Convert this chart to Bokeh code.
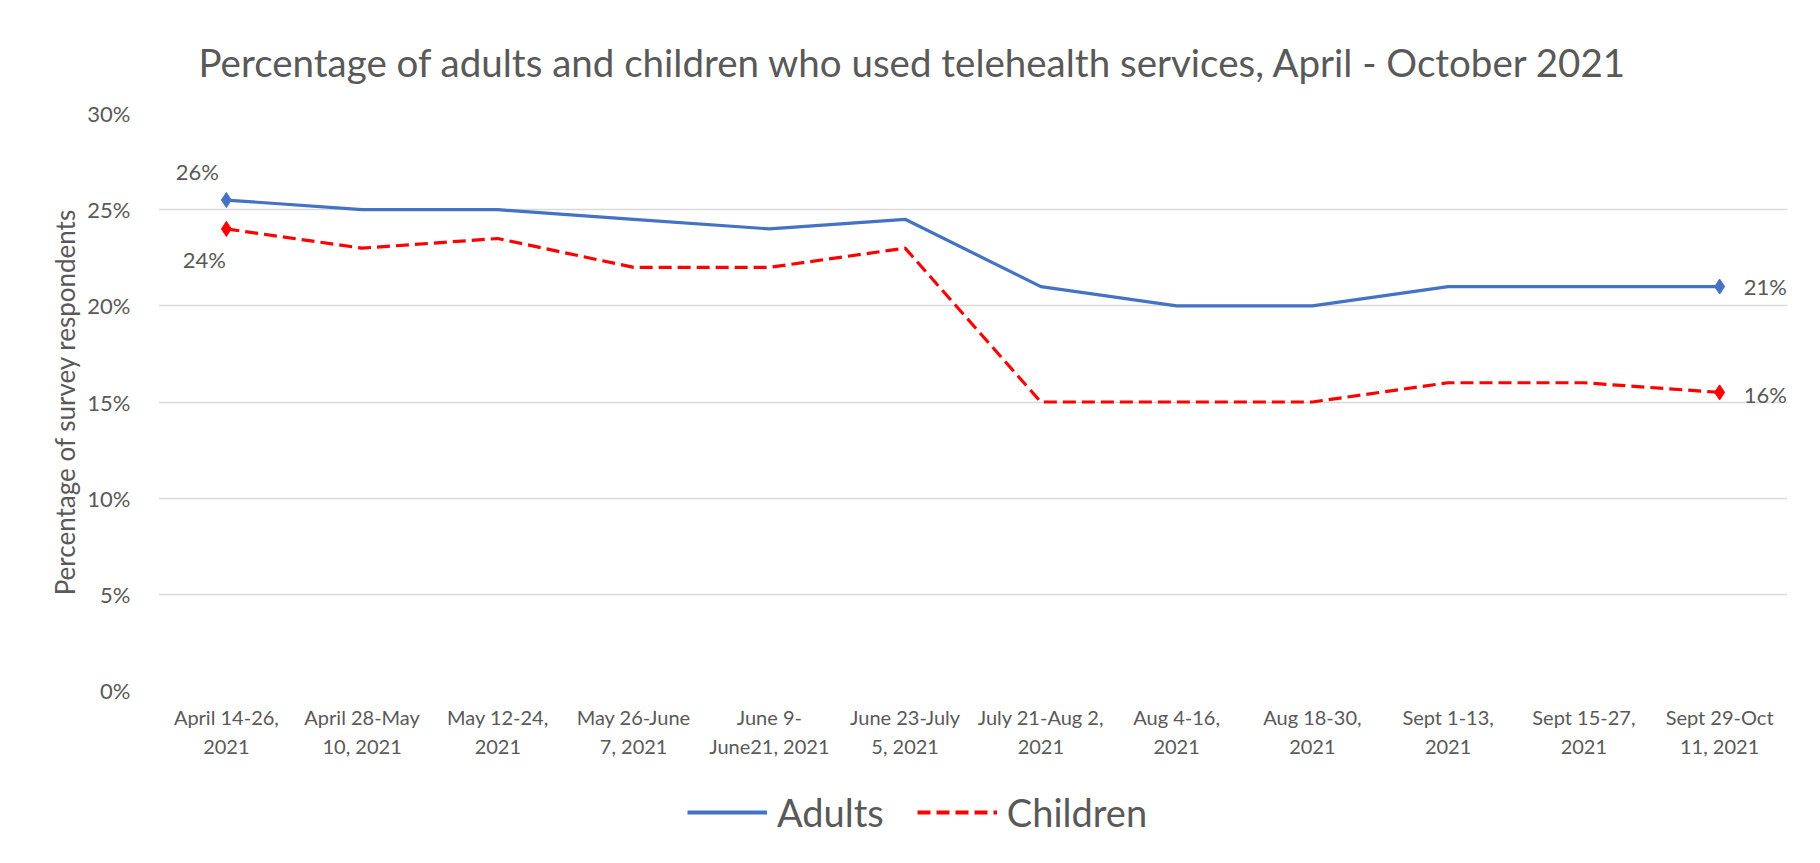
from bokeh.plotting import figure
from bokeh.layouts import column
from bokeh.models import (FactorRange, Range1d, FixedTicker, PrintfTickFormatter,
                          Legend, LegendItem, Label, ColumnDataSource)
from bokeh.embed import file_html
from bokeh.resources import INLINE

# ---- data ----
periods = ["April 14-26,\n2021", "April 28-May\n10, 2021", "May 12-24,\n2021",
           "May 26-June\n7, 2021", "June 9-\nJune21, 2021", "June 23-July\n5, 2021",
           "July 21-Aug 2,\n2021", "Aug 4-16,\n2021", "Aug 18-30,\n2021",
           "Sept 1-13,\n2021", "Sept 15-27,\n2021", "Sept 29-Oct\n11, 2021"]
adults = [25.5, 25.0, 25.0, 24.5, 24.0, 24.5, 21.0, 20.0, 20.0, 21.0, 21.0, 21.0]
children = [24.0, 23.0, 23.5, 22.0, 22.0, 23.0, 15.0, 15.0, 15.0, 16.0, 16.0, 15.5]
y_ticks = [0, 5, 10, 15, 20, 25, 30]
series_names = ["Adults", "Children"]

title_text = "Percentage of adults and children who used telehealth  services, April - October 2021"
y_title = "Percentage of survey respondents"

FONT = "Lato"
GREY = "#595959"
BLUE = "#4472C4"
RED = "#FF0000"
DASH = "13 6"

p = figure(frame_width=1629, frame_height=577,
           x_range=FactorRange(*periods, range_padding=0),
           y_range=Range1d(0, 30), output_backend="svg", toolbar_location=None,
           min_border_left=158, min_border_right=33, min_border_top=113,
           min_border_bottom=80)
p.outline_line_color = None
p.background_fill_color = "white"
p.border_fill_color = "white"

# title
p.title.text = title_text
p.title.text_font = FONT
p.title.text_font_size = "38.5px"
p.title.text_font_style = "normal"
p.title.text_color = GREY
p.title.align = "left"
p.title.offset = 40
p.title.standoff = 58

# axes
p.yaxis.ticker = FixedTicker(ticks=y_ticks)
p.yaxis.formatter = PrintfTickFormatter(format="%d%%")
p.yaxis.axis_line_color = None
p.yaxis.major_tick_line_color = None
p.yaxis.minor_tick_line_color = None
p.yaxis.major_label_standoff = 22
p.yaxis.major_label_text_font = FONT
p.yaxis.major_label_text_font_size = "22px"
p.yaxis.major_label_text_color = GREY
p.yaxis.axis_label = y_title
p.yaxis.axis_label_text_font = FONT
p.yaxis.axis_label_text_font_size = "26px"
p.yaxis.axis_label_text_font_style = "normal"
p.yaxis.axis_label_text_color = GREY
p.yaxis.axis_label_standoff = 3

p.xaxis.axis_line_color = None
p.xaxis.major_tick_line_color = None
p.xaxis.minor_tick_line_color = None
p.xaxis.major_label_standoff = 8
p.xaxis.major_label_text_font = FONT
p.xaxis.major_label_text_font_size = "20px"
p.xaxis.major_label_text_color = GREY
p.xaxis.major_label_text_line_height = 1.22

p.xgrid.grid_line_color = None
p.ygrid.grid_line_color = "#D9D9D9"
p.ygrid.grid_line_width = 1.5

# lines
src = ColumnDataSource(dict(x=periods, a=adults, c=children))
p.line("x", "a", source=src, line_color=BLUE, line_width=3.2)
p.line("x", "c", source=src, line_color=RED, line_width=3.2, line_dash=DASH)

ends = ColumnDataSource(dict(x=[periods[0], periods[-1]],
                             a=[adults[0], adults[-1]],
                             c=[children[0], children[-1]]))
p.scatter("x", "a", source=ends, marker="diamond", size=15, color=BLUE)
p.scatter("x", "c", source=ends, marker="diamond", size=15, color=RED)

def pct(v):
    return f"{int(v + 0.5)}%"

# data labels
lab_kw = dict(text_font=FONT, text_font_size="22px", text_color=GREY,
              x_units="data", y_units="data", text_baseline="middle")
p.add_layout(Label(x=0.5, y=adults[0], text=pct(adults[0]), x_offset=-29, y_offset=29,
                   text_align="center", **lab_kw))
p.add_layout(Label(x=0.5, y=children[0], text=pct(children[0]), x_offset=-22, y_offset=-31,
                   text_align="center", **lab_kw))
p.add_layout(Label(x=11.5, y=adults[-1], text=pct(adults[-1]), x_offset=24, y_offset=0,
                   text_align="left", **lab_kw))
p.add_layout(Label(x=11.5, y=children[-1], text=pct(children[-1]), x_offset=24, y_offset=-2,
                   text_align="left", **lab_kw))

# legend strip below the chart (series drawn out of view, only the legend shows)
q = figure(frame_width=1820, frame_height=93, x_range=FactorRange(*periods),
           y_range=Range1d(100, 101),
           output_backend="svg", toolbar_location=None,
           min_border_left=0, min_border_right=0, min_border_top=0, min_border_bottom=0)
q.axis.visible = False
q.grid.grid_line_color = None
q.outline_line_color = None
q.border_fill_color = "white"
la = q.line("x", "a", source=src, line_color=BLUE, line_width=4)
lc = q.line("x", "c", source=src, line_color=RED, line_width=4, line_dash=DASH)
legend = Legend(items=[LegendItem(label=series_names[0], renderers=[la]),
                       LegendItem(label=series_names[1], renderers=[lc])],
                orientation="horizontal", location=(687, 28),
                label_text_font=FONT, label_text_font_size="38px",
                label_text_color=GREY, glyph_width=80, glyph_height=40,
                label_standoff=10, spacing=33, border_line_color=None,
                background_fill_alpha=0, margin=0, padding=0)
q.add_layout(legend, "center")

layout = column(p, q, spacing=0)

open("out.html", "w").write(file_html(layout, INLINE))
